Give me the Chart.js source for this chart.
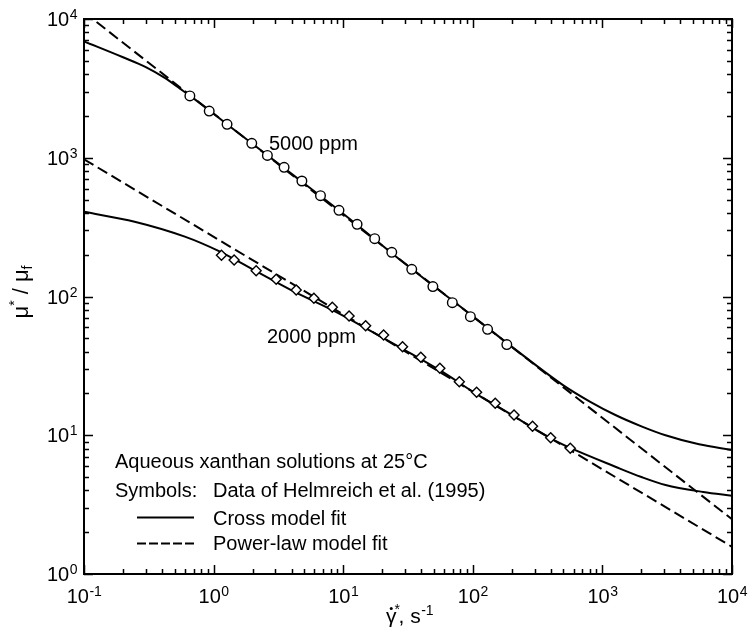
<!DOCTYPE html>
<html>
<head>
<meta charset="utf-8">
<script src="https://cdn.jsdelivr.net/npm/chart.js@4.4.1/dist/chart.umd.min.js"></script>
<style>
  html, body { margin: 0; padding: 0; background: #fff; }
  #wrap { width: 748px; height: 637px; }
</style>
</head>
<body>
<div id="wrap"><canvas id="chart" width="748" height="637"></canvas></div>
<script>
  // Helmreich et al. (1995) data
  const shear5000 = [0.656, 0.925, 1.27, 1.97, 2.60, 3.50, 4.80, 6.68, 9.28, 12.8, 17.5, 23.7, 33.8, 49.2, 69.5, 95.8, 130, 183];
  const visc5000 = [2790, 2170, 1740, 1270, 1040, 853, 680, 533, 418, 331, 261, 208, 157, 118, 90.2, 71.5, 58.0, 45.0];
  const shear2000 = [1.15, 1.44, 2.13, 3.04, 4.34, 5.94, 8.24, 11.1, 14.9, 20.5, 28.7, 39.7, 55.7, 78.7, 107, 149, 208, 289, 399, 565];
  const visc2000 = [198, 183, 153.5, 133, 111.4, 97.0, 83.6, 72.3, 61.6, 52.8, 43.5, 36.5, 30.4, 24.3, 20.4, 17.0, 14.0, 11.6, 9.6, 8.05];

  // Cross model fits (curve)
  const crossX5000 = [0.1, 0.2, 0.3, 0.42, 0.55, 0.7, 1.5, 4, 10, 30, 100, 250, 500, 800, 1260, 2000, 3070, 5570, 10000];
  const crossY5000 = [6900, 5300, 4500, 3760, 3150, 2680, 1545, 765, 395, 172, 72, 37, 22.9, 17.5, 14.0, 11.6, 10.0, 8.6, 7.83];
  const crossX2000 = [0.1, 0.246, 0.6, 1.09, 2, 4.3, 8.2, 15, 29, 56, 107, 208, 399, 565, 1260, 2000, 3070, 6000, 10000];
  const crossY2000 = [408, 346, 270, 213, 157, 107, 80, 59, 41.8, 29.3, 19.8, 13.7, 9.5, 8.1, 5.93, 5.0, 4.38, 3.9, 3.66];

  // Power-law fits (straight lines on log-log, end points)
  const powerX = [0.1, 10000];
  const powerY5000 = [11200, 2.48];
  const powerY2000 = [975, 1.57];

  // tick labels
  const xDecades = [0.1, 1, 10, 100, 1000, 10000];
  const xExponents = ["-1", "0", "1", "2", "3", "4"];
  const yDecades = [1, 10, 100, 1000, 10000];
  const yExponents = ["0", "1", "2", "3", "4"];

  const FONT = '"Liberation Sans", Arial, Helvetica, sans-serif';

  function zip(xs, ys) {
    return xs.map((x, i) => ({ x: x, y: ys[i] }));
  }

  function minorValues(min, max) {
    const out = [];
    for (let k = Math.floor(Math.log10(min)); k <= Math.ceil(Math.log10(max)); k++) {
      for (let m = 1; m <= 9; m++) {
        const v = m * Math.pow(10, k);
        if (v >= min * 0.999 && v <= max * 1.001) out.push({ v: v, major: m === 1 });
      }
    }
    return out;
  }

  function drawPow(ctx, base, exp, x, y, align) {
    // "10" with a raised exponent; align is "center" or "right"
    ctx.font = "20px " + FONT;
    const wb = ctx.measureText(base).width;
    ctx.font = "14px " + FONT;
    const we = ctx.measureText(exp).width;
    let x0 = align === "right" ? x - wb - we : x - (wb + we) / 2;
    ctx.textAlign = "left";
    ctx.textBaseline = "alphabetic";
    ctx.font = "20px " + FONT;
    ctx.fillText(base, x0, y);
    ctx.font = "14px " + FONT;
    ctx.fillText(exp, x0 + wb + 0.5, y - 7);
  }

  const framePlugin = {
    id: "frame",
    afterDraw(chart) {
      const ctx = chart.ctx;
      const { left, right, top, bottom } = chart.chartArea;
      const xs = chart.scales.x;
      const ys = chart.scales.y;
      ctx.save();
      ctx.strokeStyle = "#000";
      ctx.fillStyle = "#000";

      // frame
      ctx.lineWidth = 2;
      ctx.strokeRect(left, top, right - left, bottom - top);

      // inward ticks on all four sides
      ctx.lineWidth = 1.5;
      ctx.beginPath();
      minorValues(xs.min, xs.max).forEach((t) => {
        const px = Math.round(xs.getPixelForValue(t.v)) + 0.5;
        const len = t.major ? 9 : 5;
        ctx.moveTo(px, bottom);
        ctx.lineTo(px, bottom - len);
        ctx.moveTo(px, top);
        ctx.lineTo(px, top + len);
      });
      minorValues(ys.min, ys.max).forEach((t) => {
        const py = Math.round(ys.getPixelForValue(t.v)) + 0.5;
        const len = t.major ? 9 : 5;
        ctx.moveTo(left, py);
        ctx.lineTo(left + len, py);
        ctx.moveTo(right, py);
        ctx.lineTo(right - len, py);
      });
      ctx.stroke();

      // tick labels
      xDecades.forEach((v, i) => {
        drawPow(ctx, "10", xExponents[i], xs.getPixelForValue(v), bottom + 29, "center");
      });
      yDecades.forEach((v, i) => {
        drawPow(ctx, "10", yExponents[i], left - 7, ys.getPixelForValue(v) + 7, "right");
      });

      // y axis title: mu* / mu_f
      ctx.save();
      ctx.translate(28, 292);
      ctx.rotate(-Math.PI / 2);
      ctx.textAlign = "left";
      ctx.textBaseline = "alphabetic";
      const big = "22px " + FONT;
      const small = "14px " + FONT;
      ctx.font = big;
      const wMu = ctx.measureText("\u03bc").width;
      const wSlash = ctx.measureText(" / ").width;
      ctx.font = small;
      const wStar = ctx.measureText("*").width;
      const wF = ctx.measureText("f").width;
      let cx = -(wMu * 2 + wSlash + wStar + wF) / 2;
      ctx.font = big;
      ctx.fillText("\u03bc", cx, 0);
      cx += wMu;
      ctx.font = small;
      ctx.fillText("*", cx, -9);
      cx += wStar;
      ctx.font = big;
      ctx.fillText(" / ", cx, 0);
      cx += wSlash;
      ctx.fillText("\u03bc", cx, 0);
      cx += wMu;
      ctx.font = small;
      ctx.fillText("f", cx, 4);
      ctx.restore();

      // x axis title: gamma-dot*, s^-1
      ctx.textAlign = "left";
      ctx.textBaseline = "alphabetic";
      ctx.font = "21px " + FONT;
      const gx = 386;
      const gy = 623;
      ctx.fillText("\u03b3", gx, gy);
      const wG = ctx.measureText("\u03b3").width;
      ctx.beginPath();
      ctx.arc(gx + wG / 2, gy - 14.5, 1.5, 0, Math.PI * 2);
      ctx.fill();
      ctx.font = "14px " + FONT;
      ctx.fillText("*", gx + wG - 2, gy - 9);
      ctx.font = "21px " + FONT;
      ctx.fillText(", s", gx + wG + 2, gy);
      const wS = ctx.measureText(", s").width;
      ctx.font = "14px " + FONT;
      ctx.fillText("-1", gx + wG + 2 + wS + 0.5, gy - 8);

      // curve annotations
      ctx.font = "20px " + FONT;
      ctx.fillText("5000 ppm", 269, 149.5);
      ctx.fillText("2000 ppm", 267, 342.5);

      // legend block
      ctx.fillText("Aqueous xanthan solutions at 25\u00b0C", 115, 468);
      ctx.fillText("Symbols:", 115, 497);
      ctx.fillText("Data of Helmreich et al. (1995)", 213, 497);
      ctx.fillText("Cross model fit", 213, 525);
      ctx.fillText("Power-law model fit", 213, 550);

      ctx.lineWidth = 2;
      ctx.beginPath();
      ctx.moveTo(137, 517.5);
      ctx.lineTo(194, 517.5);
      ctx.stroke();
      ctx.setLineDash([9, 3]);
      ctx.beginPath();
      ctx.moveTo(137, 543.5);
      ctx.lineTo(194, 543.5);
      ctx.stroke();
      ctx.setLineDash([]);

      ctx.restore();
    },
  };

  const lineStyle = {
    showLine: true,
    borderColor: "#000",
    borderWidth: 2,
    pointRadius: 0,
    pointHoverRadius: 0,
    fill: false,
    order: 2,
  };

  new Chart(document.getElementById("chart"), {
    type: "scatter",
    data: {
      datasets: [
        {
          label: "5000 ppm data",
          data: zip(shear5000, visc5000),
          pointStyle: "circle",
          pointRadius: 4.8,
          borderWidth: 1.4,
          borderColor: "#000",
          backgroundColor: "#fff",
          order: 0,
        },
        {
          label: "2000 ppm data",
          data: zip(shear2000, visc2000),
          pointStyle: "rectRot",
          pointRadius: 5,
          borderWidth: 1.4,
          borderColor: "#000",
          backgroundColor: "#fff",
          order: 0,
        },
        Object.assign({ label: "Cross 5000", data: zip(crossX5000, crossY5000), cubicInterpolationMode: "monotone" }, lineStyle),
        Object.assign({ label: "Cross 2000", data: zip(crossX2000, crossY2000), cubicInterpolationMode: "monotone" }, lineStyle),
        Object.assign({ label: "Power 5000", data: zip(powerX, powerY5000), borderDash: [11, 5] }, lineStyle),
        Object.assign({ label: "Power 2000", data: zip(powerX, powerY2000), borderDash: [11, 5] }, lineStyle),
      ],
    },
    options: {
      responsive: false,
      animation: false,
      devicePixelRatio: 1,
      layout: { padding: { left: 84, right: 16, top: 19, bottom: 63 } },
      plugins: {
        legend: { display: false },
        tooltip: { enabled: false },
      },
      scales: {
        x: { type: "logarithmic", min: 0.1, max: 10000, display: false },
        y: { type: "logarithmic", min: 1, max: 10000, display: false },
      },
    },
    plugins: [framePlugin],
  });
</script>
</body>
</html>
